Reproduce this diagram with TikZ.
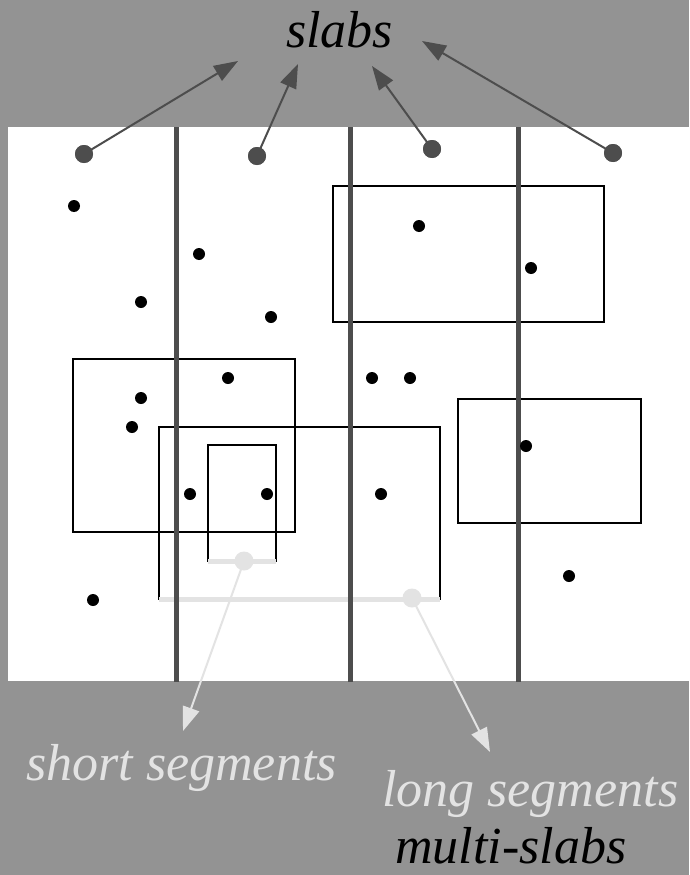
\documentclass[tikz,border=0pt]{standalone}
\usepackage{fontspec}
\setmainfont{Liberation Serif}
\usetikzlibrary{arrows.meta}
\definecolor{bggray}{HTML}{939393}
\definecolor{slabgray}{HTML}{4D4D4D}
\definecolor{seggray}{HTML}{E3E3E3}
\tikzset{
  label text/.style={inner sep=0pt, anchor=base west, font=\fontsize{52}{60}\selectfont\itshape},
  point/.style={circle, fill=black, inner sep=0pt, minimum size=12pt},
  slabdot/.style={circle, fill=slabgray, inner sep=0pt, minimum size=18pt},
  segdot/.style={circle, fill=seggray, inner sep=0pt, minimum size=19pt},
  slabline/.style={slabgray, line width=5pt},
  slabarrow/.style={slabgray, line width=2pt, -{Triangle[length=24pt, width=17pt]}},
  segarrow/.style={seggray, line width=2pt, -{Triangle[length=24pt, width=17pt]}},
  interval/.style={black, line width=2pt},
  segment/.style={seggray, line width=5pt},
}
\begin{document}
\begin{tikzpicture}[x=1pt, y=-1pt]
  % page and plane
  \fill[bggray] (0,0) rectangle (689,875);
  \useasboundingbox (0,0) rectangle (689,875);
  \fill[white] (8,127) rectangle (689,681);

  % rectangles
  \draw[interval] (333,186) rectangle (604,322);
  \draw[interval] (73,359) rectangle (295,532);
  \draw[interval] (159,427) rectangle (440,599);
  \draw[interval] (208,445) rectangle (276,561);
  \draw[interval] (458,399) rectangle (641,523);

  % segments on the bottom edges
  \draw[segment] (208,561) -- (276,561);
  \draw[segment] (159,599) -- (440,599);

  % slab boundaries
  \draw[slabline] (176,127) -- (176,682);
  \draw[slabline] (350,127) -- (350,682);
  \draw[slabline] (518,127) -- (518,682);

  % points
  \foreach \p in {(74,206),(199,254),(141,302),(271,317),(228,378),(141,398),
                  (132,427),(190,494),(267,494),(93,600),(419,226),(531,268),
                  (372,378),(410,378),(381,494),(526,446),(569,576)}
    \node[point] at \p {};

  % labels
  \node[label text, text=black] (slabs) at (286,48) {slabs};
  \node[label text, text=seggray] (short) at (26,780) {short segments};
  \node[label text, text=seggray] (long) at (382,806) {long segments};
  \node[label text, text=black] (multi) at (395,863) {multi-slabs};

  % slab markers and arrows
  \node[slabdot] (s1) at (84,154) {};
  \node[slabdot] (s2) at (257,156) {};
  \node[slabdot] (s3) at (432,149) {};
  \node[slabdot] (s4) at (613,153) {};
  \coordinate (t1) at (238,61);
  \coordinate (t2) at (298,64);
  \coordinate (t3) at (372,66);
  \coordinate (t4) at (422,41);
  \draw[slabarrow] (s1.center) -- (t1);
  \draw[slabarrow] (s2.center) -- (t2);
  \draw[slabarrow] (s3.center) -- (t3);
  \draw[slabarrow] (s4.center) -- (t4);
  \node[slabdot] at (s1) {};
  \node[slabdot] at (s2) {};
  \node[slabdot] at (s3) {};
  \node[slabdot] at (s4) {};

  % segment markers and arrows
  \node[segdot] (d1) at (244,561) {};
  \node[segdot] (d2) at (412,598) {};
  \coordinate (u1) at (183,731);
  \coordinate (u2) at (490,752);
  \draw[segarrow] (d1.center) -- (u1);
  \draw[segarrow] (d2.center) -- (u2);
\end{tikzpicture}
\end{document}
